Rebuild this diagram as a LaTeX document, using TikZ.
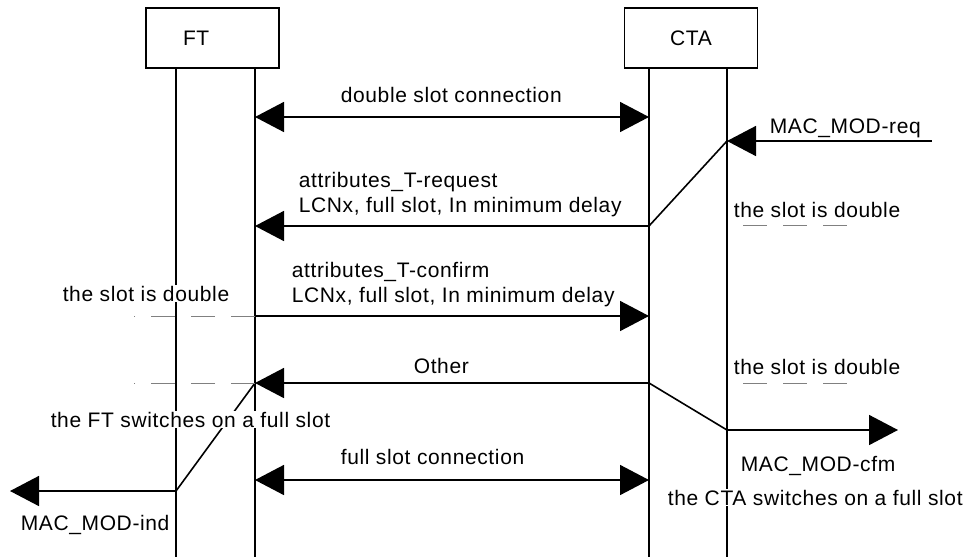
\documentclass[tikz,border=0pt]{standalone}
\usepackage{fontspec}
\setmainfont{Liberation Sans}[LetterSpace=3]
\usetikzlibrary{arrows.meta}
\begin{document}
\begin{tikzpicture}[x=1pt,y=-1pt,>={Triangle[length=29pt,width=30pt]},line width=1.6pt,
  every node/.style={font=\fontsize{21}{25}\selectfont},
  box/.style={draw,minimum width=133pt,minimum height=60pt,inner sep=0pt},
  msg/.style={anchor=base west,inner sep=1pt},
  note/.style={msg,fill=white},
  slotline/.style={gray,line width=0.8pt,dash pattern=on 24pt off 16pt}]
\useasboundingbox (0,0) rectangle (973,557);
\node[box,text width=59pt,inner xsep=37pt,align=left] (ft) at (212.5,38) {FT};
\node[box] (cta) at (691,38) {CTA};
\foreach \x/\b in {176/ft,255/ft,649/cta,727/cta}
{
    \draw (\x,0 |- \b.south) -- (\x,557);
}
\foreach \n/\x/\y in {dsL/255/117,dsR/649/117,reqIn/932/141,reqA/727/141,atrR/649/226,atrL/255/226,
    cfmL/255/316,cfmR/649/316,othR/649/383,othL/255/383,cfmA/727/430,cfmOut/898/430,
    indA/176/491,indOut/10/491,fsL/255/480,fsR/649/480}
{
    \coordinate (\n) at (\x,\y);
}
\draw[<->] (dsL) -- (dsR);
\draw[<-] (reqA) -- (reqIn);
\draw[->] (reqA) -- (atrR) -- (atrL);
\draw[->] (cfmL) -- (cfmR);
\draw[->] (othR) -- (othL);
\draw[->] (othR) -- (cfmA) -- (cfmOut);
\draw[->] (othL) -- (indA) -- (indOut);
\draw[<->] (fsL) -- (fsR);
\foreach \y in {316,383}
{
    \draw[slotline] (255,\y) -- (134,\y);
}
\foreach \y in {225,383}
{
    \draw[slotline,dash phase=24pt] (727,\y) -- (849,\y);
}
\node[msg] (ds) at (339,102) {double slot connection};
\node[msg] (req) at (768,133) {MAC\_MOD-req};
\node[msg] (atr1) at (297,187) {attributes\_T-request};
\node[msg] (atr2) at (297,212) {LCNx, full slot, In minimum delay};
\node[note] (dblR1) at (732,217) {the slot is double};
\node[msg] (cfm1) at (290,277) {attributes\_T-confirm};
\node[msg] (cfm2) at (290,302) {LCNx, full slot, In minimum delay};
\node[note] (dblL) at (61,301) {the slot is double};
\node[msg] (oth) at (412,373) {Other};
\node[note] (dblR2) at (732,374) {the slot is double};
\node[note] (ftsw) at (49,427) {the FT switches on a full slot};
\node[msg] (fs) at (339,464) {full slot connection};
\node[msg] (ind) at (19,530) {MAC\_MOD-ind};
\node[msg] (cfmo) at (739,471) {MAC\_MOD-cfm};
\node[note] (ctasw) at (666,505) {the CTA switches on a full slot};
\end{tikzpicture}
\end{document}
